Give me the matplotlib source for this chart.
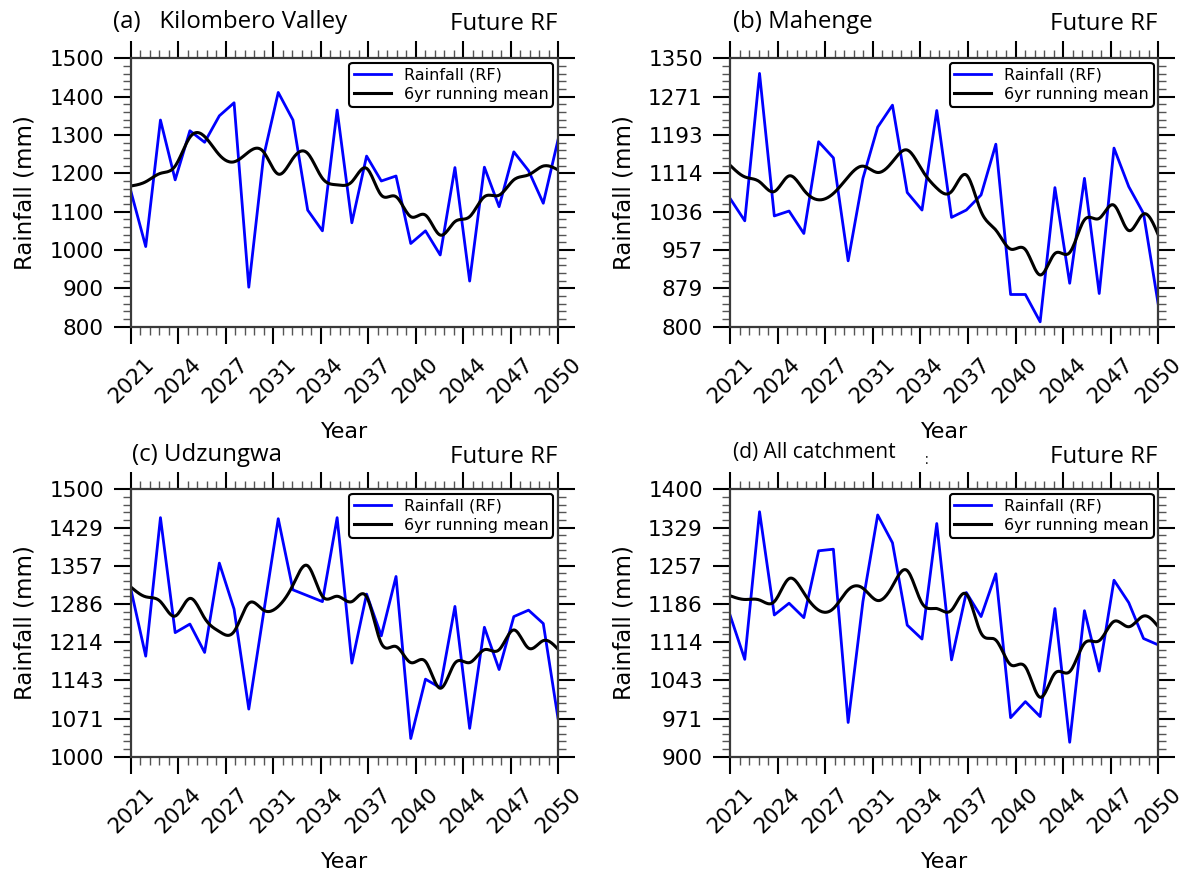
import numpy as np
import matplotlib
matplotlib.use("Agg")
import matplotlib.pyplot as plt
from matplotlib.ticker import AutoMinorLocator, FuncFormatter

# annual rainfall (mm), 2021-2050
years = list(range(2021, 2051))

kv_rf = [1152, 1009, 1339, 1183, 1311, 1281, 1350, 1384, 903, 1243, 1411, 1339, 1104, 1050, 1365,
         1071, 1245, 1180, 1193, 1017, 1050, 987, 1215, 919, 1216, 1113, 1256, 1207, 1122, 1287]
kv_mean = [1167, 1178, 1200, 1219, 1294, 1296, 1248, 1230, 1256, 1256, 1198, 1239, 1252, 1187, 1170,
           1178, 1213, 1143, 1139, 1087, 1091, 1039, 1074, 1087, 1139, 1143, 1183, 1196, 1219, 1209]

mah_rf = [1063, 1017, 1319, 1027, 1037, 991, 1179, 1146, 935, 1104, 1209, 1254, 1075, 1039, 1243,
          1024, 1039, 1070, 1174, 866, 866, 810, 1085, 889, 1104, 868, 1166, 1087, 1032, 845]
mah_mean = [1131, 1107, 1097, 1077, 1109, 1080, 1060, 1073, 1107, 1129, 1116, 1138, 1162, 1121, 1084,
            1077, 1111, 1036, 998, 959, 958, 906, 950, 952, 1019, 1022, 1049, 997, 1031, 988]

udz_rf = [1312, 1188, 1447, 1232, 1248, 1195, 1362, 1276, 1089, 1268, 1445, 1312, 1301, 1290, 1447,
          1175, 1304, 1226, 1337, 1034, 1145, 1129, 1281, 1053, 1242, 1163, 1262, 1274, 1249, 1072]
udz_mean = [1317, 1299, 1290, 1263, 1296, 1259, 1234, 1234, 1287, 1274, 1281, 1321, 1357, 1300, 1300,
            1290, 1299, 1212, 1206, 1176, 1178, 1128, 1175, 1176, 1200, 1200, 1237, 1203, 1217, 1201]

all_rf = [1165, 1082, 1358, 1165, 1187, 1160, 1285, 1288, 964, 1190, 1352, 1300, 1146, 1120, 1336,
          1081, 1207, 1162, 1242, 973, 1003, 975, 1177, 927, 1173, 1060, 1230, 1188, 1121, 1109]
all_mean = [1201, 1194, 1193, 1190, 1233, 1206, 1174, 1177, 1212, 1215, 1192, 1219, 1248, 1187, 1177,
            1174, 1204, 1131, 1118, 1072, 1068, 1011, 1056, 1059, 1112, 1117, 1153, 1143, 1163, 1143]

titles = ["(a)   Kilombero Valley", "(b) Mahenge", "(c) Udzungwa", "(d) All catchment"]
ylims = [(800, 1500), (800, 1350), (1000, 1500), (900, 1400)]


# natural cubic spline, only used to draw the running mean as a smooth line
def smooth_line(x, y, num=400):
    x = np.asarray(x, dtype=float)
    y = np.asarray(y, dtype=float)
    n = len(x)
    h = np.diff(x)
    A = np.zeros((n, n))
    b = np.zeros(n)
    A[0, 0] = A[-1, -1] = 1.0
    for i in range(1, n - 1):
        A[i, i - 1] = h[i - 1]
        A[i, i] = 2 * (h[i - 1] + h[i])
        A[i, i + 1] = h[i]
        b[i] = 3 * ((y[i + 1] - y[i]) / h[i] - (y[i] - y[i - 1]) / h[i - 1])
    c = np.linalg.solve(A, b)
    xs = np.linspace(x[0], x[-1], num)
    k = np.clip(np.searchsorted(x, xs) - 1, 0, n - 2)
    dx = xs - x[k]
    bk = (y[k + 1] - y[k]) / h[k] - h[k] * (2 * c[k] + c[k + 1]) / 3
    dk = (c[k + 1] - c[k]) / (3 * h[k])
    return xs, y[k] + bk * dx + c[k] * dx ** 2 + dk * dx ** 3


W, H = 1184, 872
fig = plt.figure(figsize=(W / 100, H / 100), dpi=100)

# axes boxes in pixels: left, top, right, bottom
boxes = [(131, 58.3, 558, 326.7), (730, 58.3, 1158.3, 326.7),
         (131, 489.3, 558, 756.7), (730, 489.3, 1158.3, 756.7)]
series = [(kv_rf, kv_mean), (mah_rf, mah_mean), (udz_rf, udz_mean), (all_rf, all_mean)]
fmt = FuncFormatter(lambda v, p: f"{int(round(v))}")

for box, (rf, rmean), ylim in zip(boxes, series, ylims):
    l, t, r, b = box
    ax = fig.add_axes([l / W, 1 - b / H, (r - l) / W, (b - t) / H])
    ax.plot(years, rf, color="#0000ff", lw=2.0, label="Rainfall (RF)")
    xs, ys = smooth_line(years, rmean)
    ax.plot(xs, ys, color="black", lw=2.2, label="6yr running mean")
    ax.set_xlim(2021, 2050)
    ax.set_ylim(*ylim)
    ax.set_xticks(np.linspace(2021, 2050, 10))
    ax.set_yticks(np.linspace(ylim[0], ylim[1], 8))
    ax.xaxis.set_major_formatter(fmt)
    ax.yaxis.set_major_formatter(fmt)
    ax.xaxis.set_minor_locator(AutoMinorLocator(5))
    ax.yaxis.set_minor_locator(AutoMinorLocator(5))
    ax.tick_params(which="both", direction="out", top=True, right=True)
    ax.tick_params(which="major", length=12.5, width=1.5, labelsize=15.5, pad=7)
    ax.tick_params(which="minor", length=6, width=1.0, color="#555555")
    plt.setp(ax.get_xticklabels(), rotation=45)
    for sp in ax.spines.values():
        sp.set_linewidth(1.6)
        sp.set_color("#3a3a3a")
    ax.set_xlabel("Year", fontsize=16, labelpad=11)
    ax.set_ylabel("Rainfall (mm)", fontsize=16.5, labelpad=9)
    leg = ax.legend(loc="upper right", fontsize=11.5, fancybox=True, edgecolor="black",
                    framealpha=1, borderaxespad=0.3, borderpad=0.3, labelspacing=0.25,
                    handlelength=2.3, handletextpad=0.8)
    leg.get_frame().set_linewidth(1.5)

# panel titles
title_pos = [(113, 22), (733, 22), (132, 455), (733, 452)]
for (tx, ty), txt in zip(title_pos, titles):
    size = 15 if txt.startswith("(d)") else 17.3
    fig.text(tx / W, 1 - ty / H, txt, fontsize=size, family="Open Sans", va="center", ha="left")
for rx, ty in [(557, 24), (1157, 24), (557, 457), (1157, 457)]:
    fig.text(rx / W, 1 - ty / H, "Future RF", fontsize=17.3, family="Open Sans", va="center", ha="right")
fig.text(925 / W, 1 - 460 / H, ":", fontsize=10, family="Open Sans", va="center", ha="left")

fig.savefig("out.png", dpi=100)
